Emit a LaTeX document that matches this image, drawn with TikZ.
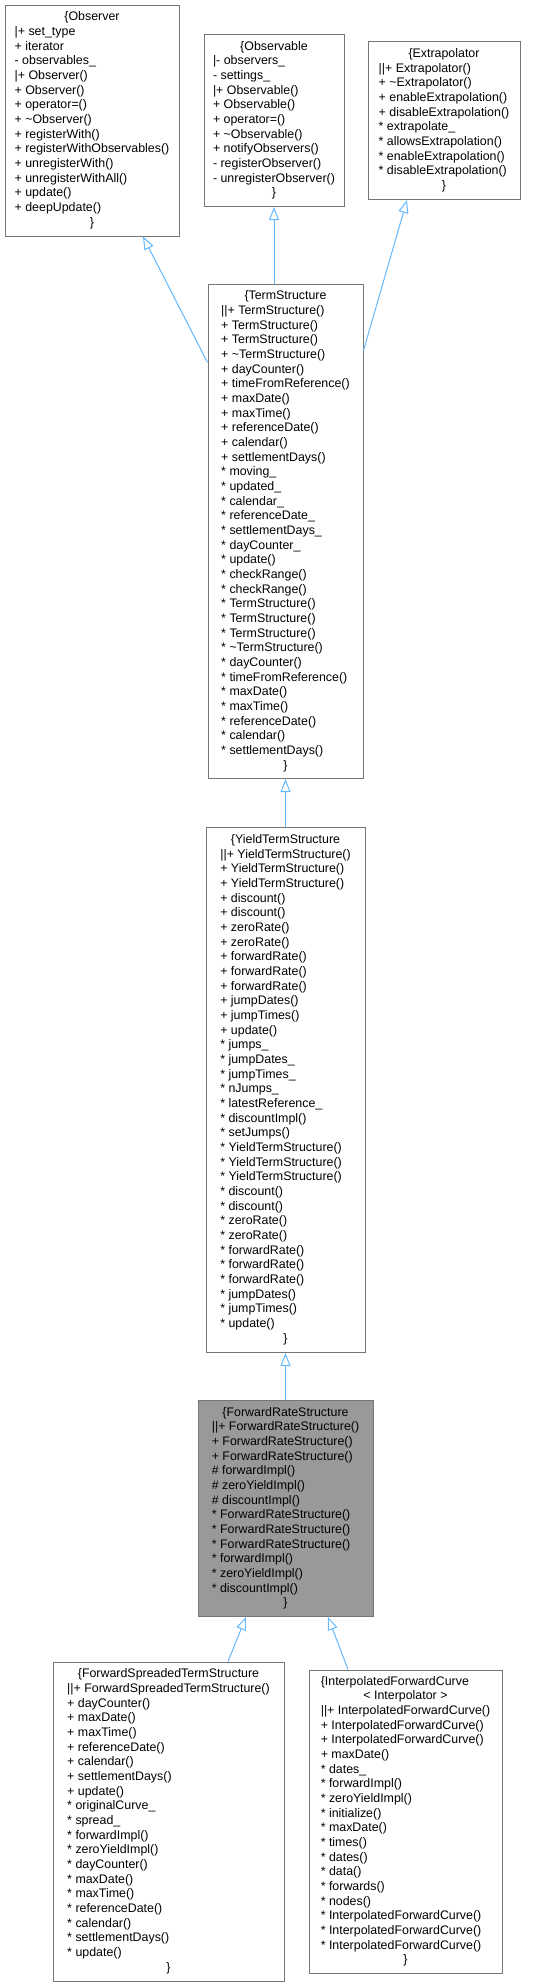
\documentclass[tikz,border=0pt]{standalone}
\usepackage{fontspec}
\setmainfont{Liberation Sans}
\usepackage{xcolor,tikz}
\usetikzlibrary{arrows.meta,positioning}
\definecolor{boxgray}{RGB}{118,118,118}
\definecolor{edgeblue}{RGB}{99,184,255}
\definecolor{basegray}{RGB}{153,153,153}
\newcommand{\hd}[1]{\hfill#1\hfill\null}
\begin{document}
\begin{tikzpicture}[x=1pt,y=1pt,node distance=48pt and 24pt,cls/.style={draw=boxgray,line width=1pt,fill=white,inner sep=0pt,font=\fontsize{12.4}{14.67}\selectfont},inh/.style={draw=edgeblue,line width=1pt,-{Triangle[open,length=13pt,width=10pt]}}]
\useasboundingbox (0,0) rectangle (548,-1987);
% top row
\node[cls,minimum width=174pt,minimum height=231pt] (obs) at (92,-120.5) {\begin{tabular}{@{}l@{}}\hd{\{Observer}\\ |+ set\_type\\ + iterator\\ - observables\_\\ |+ Observer()\\ + Observer()\\ + operator=()\\ + \textasciitilde Observer()\\ + registerWith()\\ + registerWithObservables()\\ + unregisterWith()\\ + unregisterWithAll()\\ + update()\\ + deepUpdate()\\ \hd{\}}\end{tabular}};
\node[cls,minimum width=140pt,minimum height=172pt,right=24pt of obs] (obsv) {\begin{tabular}{@{}l@{}}\hd{\{Observable}\\ |- observers\_\\ - settings\_\\ |+ Observable()\\ + Observable()\\ + operator=()\\ + \textasciitilde Observable()\\ + notifyObservers()\\ - registerObserver()\\ - unregisterObserver()\\ \hd{\}}\end{tabular}};
\node[cls,minimum width=152pt,minimum height=158pt,right=23pt of obsv] (extra) {\begin{tabular}{@{}l@{}}\hd{\{Extrapolator}\\ ||+ Extrapolator()\\ + \textasciitilde Extrapolator()\\ + enableExtrapolation()\\ + disableExtrapolation()\\ {*} extrapolate\_\\ {*} allowsExtrapolation()\\ {*} enableExtrapolation()\\ {*} disableExtrapolation()\\ \hd{\}}\end{tabular}};
% main chain
\node[cls,minimum width=155pt,minimum height=494pt,anchor=north] (ts) at (285.5,-284) {\begin{tabular}{@{}l@{}}\hd{\{TermStructure}\\ ||+ TermStructure()\\ + TermStructure()\\ + TermStructure()\\ + \textasciitilde TermStructure()\\ + dayCounter()\\ + timeFromReference()\\ + maxDate()\\ + maxTime()\\ + referenceDate()\\ + calendar()\\ + settlementDays()\\ {*} moving\_\\ {*} updated\_\\ {*} calendar\_\\ {*} referenceDate\_\\ {*} settlementDays\_\\ {*} dayCounter\_\\ {*} update()\\ {*} checkRange()\\ {*} checkRange()\\ {*} TermStructure()\\ {*} TermStructure()\\ {*} TermStructure()\\ {*} \textasciitilde TermStructure()\\ {*} dayCounter()\\ {*} timeFromReference()\\ {*} maxDate()\\ {*} maxTime()\\ {*} referenceDate()\\ {*} calendar()\\ {*} settlementDays()\\ \hd{\}}\end{tabular}};
\node[cls,minimum width=159pt,minimum height=525pt,below=48pt of ts] (yts) {\begin{tabular}{@{}l@{}}\hd{\{YieldTermStructure}\\ ||+ YieldTermStructure()\\ + YieldTermStructure()\\ + YieldTermStructure()\\ + discount()\\ + discount()\\ + zeroRate()\\ + zeroRate()\\ + forwardRate()\\ + forwardRate()\\ + forwardRate()\\ + jumpDates()\\ + jumpTimes()\\ + update()\\ {*} jumps\_\\ {*} jumpDates\_\\ {*} jumpTimes\_\\ {*} nJumps\_\\ {*} latestReference\_\\ {*} discountImpl()\\ {*} setJumps()\\ {*} YieldTermStructure()\\ {*} YieldTermStructure()\\ {*} YieldTermStructure()\\ {*} discount()\\ {*} discount()\\ {*} zeroRate()\\ {*} zeroRate()\\ {*} forwardRate()\\ {*} forwardRate()\\ {*} forwardRate()\\ {*} jumpDates()\\ {*} jumpTimes()\\ {*} update()\\ \hd{\}}\end{tabular}};
\node[cls,fill=basegray,minimum width=175pt,minimum height=216pt,below=47pt of yts] (frs) {\begin{tabular}{@{}l@{}}\hd{\{ForwardRateStructure}\\ ||+ ForwardRateStructure()\\ + ForwardRateStructure()\\ + ForwardRateStructure()\\ \# forwardImpl()\\ \# zeroYieldImpl()\\ \# discountImpl()\\ {*} ForwardRateStructure()\\ {*} ForwardRateStructure()\\ {*} ForwardRateStructure()\\ {*} forwardImpl()\\ {*} zeroYieldImpl()\\ {*} discountImpl()\\ \hd{\}}\end{tabular}};
% bottom row
\node[cls,minimum width=231pt,minimum height=319pt] (fst) at (168.5,-1821.5) {\begin{tabular}{@{}l@{}}\hd{\{ForwardSpreadedTermStructure}\\ ||+ ForwardSpreadedTermStructure()\\ + dayCounter()\\ + maxDate()\\ + maxTime()\\ + referenceDate()\\ + calendar()\\ + settlementDays()\\ + update()\\ {*} originalCurve\_\\ {*} spread\_\\ {*} forwardImpl()\\ {*} zeroYieldImpl()\\ {*} dayCounter()\\ {*} maxDate()\\ {*} maxTime()\\ {*} referenceDate()\\ {*} calendar()\\ {*} settlementDays()\\ {*} update()\\ \hd{\}}\end{tabular}};
\node[cls,minimum width=193pt,minimum height=303pt,right=24pt of fst] (ifc) {\begin{tabular}{@{}l@{}}\{InterpolatedForwardCurve\\ \hd{< Interpolator >}\\ ||+ InterpolatedForwardCurve()\\ + InterpolatedForwardCurve()\\ + InterpolatedForwardCurve()\\ + maxDate()\\ {*} dates\_\\ {*} forwardImpl()\\ {*} zeroYieldImpl()\\ {*} initialize()\\ {*} maxDate()\\ {*} times()\\ {*} dates()\\ {*} data()\\ {*} forwards()\\ {*} nodes()\\ {*} InterpolatedForwardCurve()\\ {*} InterpolatedForwardCurve()\\ {*} InterpolatedForwardCurve()\\ \hd{\}}\end{tabular}};
% inheritance
\draw[inh] ([yshift=169pt]ts.west)--([xshift=51pt]obs.south);
\draw[inh] (ts.north -| obsv.south)--(obsv.south);
\draw[inh] ([yshift=181pt]ts.east)--([xshift=-37pt]extra.south);
\draw[inh] (yts.north)--(yts.north |- ts.south);
\draw[inh] (frs.north)--(frs.north |- yts.south);
\draw[inh] ([xshift=59.5pt]fst.north)--([xshift=-39.5pt]frs.south);
\draw[inh] ([xshift=-57.5pt]ifc.north)--([xshift=42.5pt]frs.south);
\end{tikzpicture}
\end{document}
